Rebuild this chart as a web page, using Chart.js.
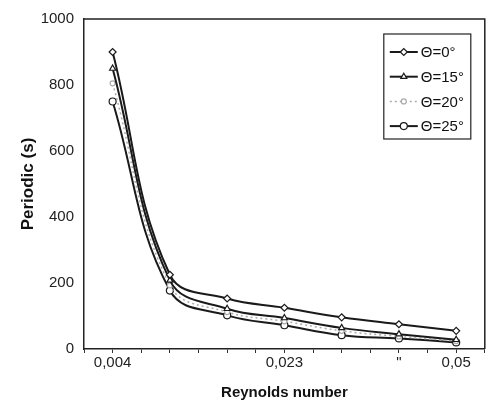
<!DOCTYPE html>
<html lang="en">
<head>
    <meta charset="UTF-8">
    <title>Periodic vs Reynolds number</title>
    <script src="https://cdn.jsdelivr.net/npm/chart.js@4.4.1/dist/chart.umd.min.js"></script>
</head>
<style>
    body {
        margin: 0;
        background: #fff;
    }
    #grafica {
        display: block;
    }
</style>
<body>
    <canvas id="grafica" width="490" height="406"></canvas>

    <script>
        // Datos
        const reynolds = ["0,004", "", "", "0,023", "", "\"", "0,05"];
        const theta0 = [900, 225, 153, 125, 96, 75, 55];
        const theta15 = [850, 208, 122, 94, 64, 45, 28];
        const theta20 = [805, 193, 112, 84, 55, 38, 24];
        const theta25 = [750, 177, 102, 72, 42, 32, 20];
        const yTicks = [0, 200, 400, 600, 800, 1000];

        const toPoints = (serie) => serie.map((v, i) => ({ x: i, y: v }));

        // Marco superior/derecho del area de la grafica
        const marco = {
            id: "marco",
            afterDraw(chart) {
                const { ctx, chartArea } = chart;
                ctx.save();
                ctx.strokeStyle = "#222";
                ctx.lineWidth = 1.5;
                ctx.beginPath();
                ctx.moveTo(chartArea.left, chartArea.top);
                ctx.lineTo(chartArea.right, chartArea.top);
                ctx.lineTo(chartArea.right, chartArea.bottom);
                ctx.stroke();
                ctx.restore();
            }
        };

        // Leyenda en caja dentro del area
        const leyenda = {
            id: "leyenda",
            afterDraw(chart) {
                const { ctx, chartArea } = chart;
                const left = chartArea.right - 101;
                const top = chartArea.top + 15;
                ctx.save();
                ctx.fillStyle = "#fff";
                ctx.fillRect(left, top, 87, 105);
                ctx.strokeStyle = "#222";
                ctx.lineWidth = 1.2;
                ctx.strokeRect(left, top, 87, 105);
                chart.data.datasets.forEach((ds, i) => {
                    const y = top + 18 + i * 24.7;
                    ctx.save();
                    ctx.strokeStyle = ds.borderColor;
                    ctx.lineWidth = ds.borderWidth;
                    ctx.setLineDash(ds.borderDash || []);
                    ctx.beginPath();
                    ctx.moveTo(left + 6, y);
                    ctx.lineTo(left + 34, y);
                    ctx.stroke();
                    ctx.restore();
                    if (ds.pointRadius > 0) {
                        ctx.save();
                        ctx.fillStyle = ds.pointBackgroundColor;
                        ctx.strokeStyle = ds.pointBorderColor;
                        ctx.lineWidth = ds.pointBorderWidth;
                        Chart.helpers.drawPoint(ctx, { pointStyle: ds.pointStyle, radius: ds.pointRadius, borderWidth: ds.pointBorderWidth }, left + 20, y);
                        ctx.restore();
                    }
                    ctx.fillStyle = "#111";
                    ctx.font = "15px 'Liberation Sans'";
                    ctx.textBaseline = "middle";
                    ctx.textAlign = "left";
                    ctx.fillText(ds.label, left + 37, y + 1);
                });
                ctx.restore();
            }
        };

        const serie = (label, data, estilo) => Object.assign({
            label: label,
            data: toPoints(data),
            borderColor: "#1a1a1a",
            borderWidth: 2,
            tension: 0.4,
            pointRadius: 3.5,
            pointBackgroundColor: "#fff",
            pointBorderColor: "#1a1a1a",
            pointBorderWidth: 1.2
        }, estilo);

        new Chart(document.querySelector("#grafica"), {
            type: "line",
            data: {
                datasets: [
                    serie("Θ=0°", theta0, { pointStyle: "rectRot" }),
                    serie("Θ=15°", theta15, { pointStyle: "triangle" }),
                    serie("Θ=20°", theta20, {
                        borderColor: "#aaa",
                        borderWidth: 1.5,
                        borderDash: [2, 3],
                        pointStyle: "circle",
                        pointRadius: 2.5,
                        pointBorderColor: "#aaa"
                    }),
                    serie("Θ=25°", theta25, { pointStyle: "circle" })
                ]
            },
            options: {
                responsive: false,
                animation: false,
                layout: {
                    padding: { top: 14, right: 3, left: 0, bottom: 0 }
                },
                plugins: {
                    legend: { display: false },
                    tooltip: { enabled: false }
                },
                scales: {
                    x: {
                        type: "linear",
                        min: -0.5,
                        max: reynolds.length - 0.5,
                        afterFit: (scale) => { scale.height = 57; },
                        afterBuildTicks: (scale) => {
                            const ticks = [];
                            for (let v = -0.5; v <= reynolds.length - 0.5; v += 0.5) ticks.push({ value: v });
                            scale.ticks = ticks;
                        },
                        ticks: {
                            autoSkip: false,
                            maxRotation: 0,
                            padding: 1,
                            color: "#222",
                            font: { family: "'Liberation Sans'", size: 15 },
                            callback: (v) => Number.isInteger(v) ? reynolds[v] : ""
                        },
                        grid: {
                            drawOnChartArea: false,
                            drawTicks: true,
                            tickLength: 4,
                            color: "#333"
                        },
                        border: { color: "#222", width: 1.5 },
                        title: {
                            display: true,
                            text: "Reynolds number",
                            color: "#111",
                            font: { family: "'Liberation Sans'", size: 15, weight: "bold" },
                            padding: { top: 0, bottom: 4 }
                        }
                    },
                    y: {
                        min: 0,
                        max: 1000,
                        afterFit: (scale) => { scale.width = 84; },
                        afterBuildTicks: (scale) => {
                            scale.ticks = yTicks.map((v) => ({ value: v }));
                        },
                        ticks: {
                            padding: 10,
                            color: "#222",
                            font: { family: "'Liberation Sans'", size: 15 },
                            callback: (v) => String(v)
                        },
                        grid: {
                            display: true,
                            drawOnChartArea: false,
                            drawTicks: false
                        },
                        border: { color: "#222", width: 1.5 },
                        title: {
                            display: true,
                            text: "Periodic (s)",
                            color: "#111",
                            font: { family: "'Liberation Sans'", size: 17, weight: "bold" },
                            padding: { top: 18, bottom: 0 }
                        }
                    }
                }
            },
            plugins: [marco, leyenda]
        });
    </script>
</body>
</html>
